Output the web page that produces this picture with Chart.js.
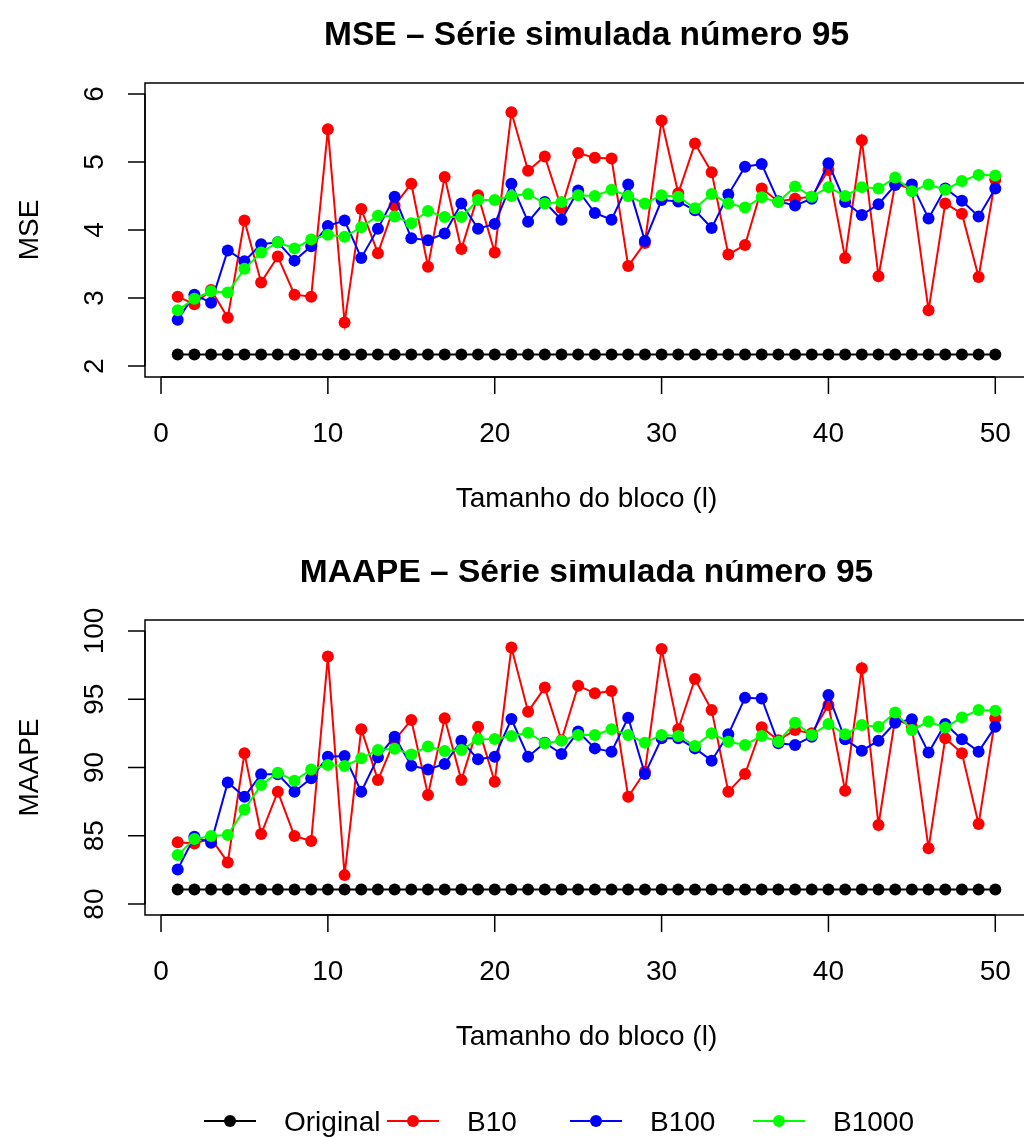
<!DOCTYPE html>
<html>
<head>
<meta charset="utf-8">
<script src="https://cdn.jsdelivr.net/npm/chart.js@4"></script>
<style>
  html, body { margin: 0; padding: 0; background: #fff; overflow: hidden; }
  #wrap { position: relative; width: 1024px; height: 1137px; overflow: hidden; }
  canvas { position: absolute; left: 0; }
  #mse { top: 0; }
  #maape { top: 560px; }
</style>
</head>
<body>
<div id="wrap">
  <canvas id="mse" width="1040" height="560"></canvas>
  <canvas id="maape" width="1040" height="577"></canvas>
</div>
<script>
/* data */
const blocks = [1,2,3,4,5,6,7,8,9,10,11,12,13,14,15,16,17,18,19,20,21,22,23,24,25,
  26,27,28,29,30,31,32,33,34,35,36,37,38,39,40,41,42,43,44,45,46,47,48,49,50];
const xTicks = [0, 10, 20, 30, 40, 50];
const mseTicks = [2, 3, 4, 5, 6];
const maapeTicks = [80, 85, 90, 95, 100];
const seriesNames = ["Original", "B10", "B100", "B1000"];
const seriesColors = ["#000000", "#ff0000", "#0000ff", "#00ff00"];

const mseOriginal = [2.17,2.17,2.17,2.17,2.17,2.17,2.17,2.17,2.17,2.17,2.17,2.17,2.17,2.17,2.17,
  2.17,2.17,2.17,2.17,2.17,2.17,2.17,2.17,2.17,2.17,2.17,2.17,2.17,2.17,2.17,2.17,2.17,2.17,
  2.17,2.17,2.17,2.17,2.17,2.17,2.17,2.17,2.17,2.17,2.17,2.17,2.17,2.17,2.17,2.17,2.17];
const mseB10 = [3.02,2.91,3.12,2.71,4.14,3.23,3.61,3.05,3.02,5.48,
  2.64,4.31,3.66,4.36,4.68,3.46,4.78,3.72,4.51,3.67,
  5.73,4.87,5.08,4.32,5.13,5.06,5.05,3.47,3.81,5.61,
  4.54,5.27,4.85,3.64,3.78,4.61,4.42,4.46,4.49,4.88,
  3.59,5.32,3.32,4.68,4.60,2.82,4.39,4.24,3.31,4.74];
const mseB100 = [2.68,3.05,2.93,3.70,3.54,3.79,3.82,3.55,3.76,4.06,
  4.14,3.59,4.02,4.49,3.88,3.85,3.95,4.39,4.02,4.09,
  4.68,4.12,4.41,4.15,4.58,4.25,4.15,4.67,3.84,4.44,
  4.42,4.29,4.03,4.52,4.93,4.97,4.42,4.36,4.46,4.98,
  4.41,4.22,4.38,4.66,4.67,4.17,4.61,4.43,4.20,4.61];
const mseB1000 = [2.82,2.99,3.10,3.08,3.43,3.67,3.82,3.73,3.86,3.93,
  3.90,4.04,4.21,4.20,4.10,4.28,4.19,4.19,4.44,4.44,
  4.50,4.53,4.39,4.41,4.51,4.50,4.59,4.50,4.39,4.51,
  4.49,4.32,4.53,4.39,4.33,4.48,4.41,4.64,4.49,4.63,
  4.50,4.63,4.61,4.77,4.57,4.67,4.59,4.72,4.81,4.80];

const maapeOriginal = [81.07,81.07,81.07,81.07,81.07,81.07,81.07,81.07,81.07,81.07,
  81.07,81.07,81.07,81.07,81.07,81.07,81.07,81.07,81.07,81.07,81.07,81.07,81.07,81.07,81.07,
  81.07,81.07,81.07,81.07,81.07,81.07,81.07,81.07,81.07,81.07,81.07,81.07,81.07,81.07,81.07,
  81.07,81.07,81.07,81.07,81.07,81.07,81.07,81.07,81.07,81.07];
const maapeB10 = [84.52,84.44,84.80,83.05,91.04,85.13,88.23,84.98,84.62,98.12,
  82.12,92.80,89.08,92.00,93.48,87.99,93.60,89.08,92.99,88.96,
  98.78,94.09,95.85,92.00,95.99,95.43,95.60,87.86,89.69,98.68,
  92.80,96.48,94.21,88.23,89.52,92.94,92.00,92.75,92.50,94.58,
  88.30,97.26,85.79,93.60,93.00,84.08,92.14,91.04,85.86,93.60];
const maapeB100 = [82.54,84.93,84.49,88.91,87.86,89.50,89.50,88.23,89.21,90.79,
  90.84,88.23,90.75,92.26,90.13,89.86,90.26,91.96,90.60,90.79,
  93.55,90.79,91.82,90.99,92.63,91.40,91.16,93.65,89.52,92.14,
  92.14,91.40,90.50,92.43,95.11,95.06,91.77,91.65,92.26,95.31,
  92.06,91.23,91.96,93.28,93.53,91.09,93.19,92.06,91.16,92.99];
const maapeB1000 = [83.59,84.76,84.98,85.05,86.93,88.72,89.62,89.03,89.86,90.18,
  90.11,90.67,91.28,91.38,90.96,91.53,91.21,91.28,92.06,92.09,
  92.31,92.55,91.77,91.96,92.38,92.38,92.80,92.38,91.82,92.38,
  92.31,91.58,92.50,91.89,91.65,92.31,91.89,93.28,92.38,93.19,
  92.43,93.11,92.99,94.02,92.75,93.36,92.92,93.67,94.21,94.16];

const FONT = '"Liberation Sans", Arial, Helvetica, sans-serif';

/* R style box, axes, titles (and legend on the lower panel) */
const rFrame = {
  id: "rFrame",
  afterDraw(chart, args, o) {
    const { ctx, chartArea: a, scales: { x, y } } = chart;
    ctx.save();
    ctx.strokeStyle = "#000";
    ctx.fillStyle = "#000";
    ctx.lineWidth = 1.5;
    ctx.strokeRect(a.left, a.top, a.right - a.left, a.bottom - a.top);

    // x axis
    ctx.beginPath();
    ctx.moveTo(x.getPixelForValue(xTicks[0]), a.bottom);
    ctx.lineTo(x.getPixelForValue(xTicks[xTicks.length - 1]), a.bottom);
    xTicks.forEach((t) => {
      const px = x.getPixelForValue(t);
      ctx.moveTo(px, a.bottom);
      ctx.lineTo(px, a.bottom + 17);
    });
    // y axis
    ctx.moveTo(a.left, y.getPixelForValue(o.yTicks[0]));
    ctx.lineTo(a.left, y.getPixelForValue(o.yTicks[o.yTicks.length - 1]));
    o.yTicks.forEach((t) => {
      const py = y.getPixelForValue(t);
      ctx.moveTo(a.left, py);
      ctx.lineTo(a.left - 17, py);
    });
    ctx.stroke();

    ctx.font = "28px " + FONT;
    ctx.textAlign = "center";
    ctx.textBaseline = "alphabetic";
    xTicks.forEach((t) => {
      ctx.fillText(String(t), x.getPixelForValue(t), a.bottom + 65);
    });
    ctx.fillText("Tamanho do bloco (l)", (a.left + a.right) / 2, a.bottom + 130);

    o.yTicks.forEach((t) => {
      ctx.save();
      ctx.translate(a.left - 42, y.getPixelForValue(t));
      ctx.rotate(-Math.PI / 2);
      ctx.fillText(String(t), 0, 0);
      ctx.restore();
    });
    ctx.save();
    ctx.translate(38, (a.top + a.bottom) / 2);
    ctx.rotate(-Math.PI / 2);
    ctx.fillText(o.ylab, 0, 0);
    ctx.restore();

    ctx.font = "bold 33.5px " + FONT;
    ctx.fillText(o.title, (a.left + a.right) / 2, a.top - 38);

    if (o.legend) {
      const ly = a.bottom + 206;
      const lx = [230, 413, 596, 779];
      ctx.font = "28px " + FONT;
      ctx.textAlign = "left";
      seriesNames.forEach((name, i) => {
        ctx.strokeStyle = seriesColors[i];
        ctx.fillStyle = seriesColors[i];
        ctx.lineWidth = 2;
        ctx.beginPath();
        ctx.moveTo(lx[i] - 26, ly);
        ctx.lineTo(lx[i] + 26, ly);
        ctx.stroke();
        ctx.beginPath();
        ctx.arc(lx[i], ly, 6, 0, Math.PI * 2);
        ctx.fill();
        ctx.fillStyle = "#000";
        ctx.fillText(name, lx[i] + 54, ly + 10);
      });
    }
    ctx.restore();
  },
};

function pts(vals) {
  return blocks.map((b, i) => ({ x: b, y: vals[i] }));
}

function panel(id, series, yMin, yMax, padding, frame) {
  new Chart(document.getElementById(id), {
    type: "line",
    data: {
      datasets: series.map((vals, i) => ({
        label: seriesNames[i],
        data: pts(vals),
        borderColor: seriesColors[i],
        backgroundColor: seriesColors[i],
        borderWidth: 2,
        pointRadius: 6,
        pointBorderWidth: 0,
        tension: 0,
        order: series.length - i,
      })),
    },
    options: {
      responsive: false,
      animation: false,
      events: [],
      layout: { padding },
      plugins: { legend: { display: false }, tooltip: { enabled: false }, rFrame: frame },
      scales: {
        x: { type: "linear", min: -0.96, max: 51.96, display: false },
        y: { type: "linear", min: yMin, max: yMax, display: false },
      },
    },
    plugins: [rFrame],
  });
}

panel("mse", [mseOriginal, mseB10, mseB100, mseB1000], 1.84, 6.16,
  { left: 145, right: 12, top: 83, bottom: 183 },
  { title: "MSE \u2013 Série simulada número 95", ylab: "MSE", yTicks: mseTicks, legend: false });

panel("maape", [maapeOriginal, maapeB10, maapeB100, maapeB1000], 79.2, 100.8,
  { left: 145, right: 12, top: 60, bottom: 222 },
  { title: "MAAPE \u2013 Série simulada número 95", ylab: "MAAPE", yTicks: maapeTicks, legend: true });
</script>
</body>
</html>
